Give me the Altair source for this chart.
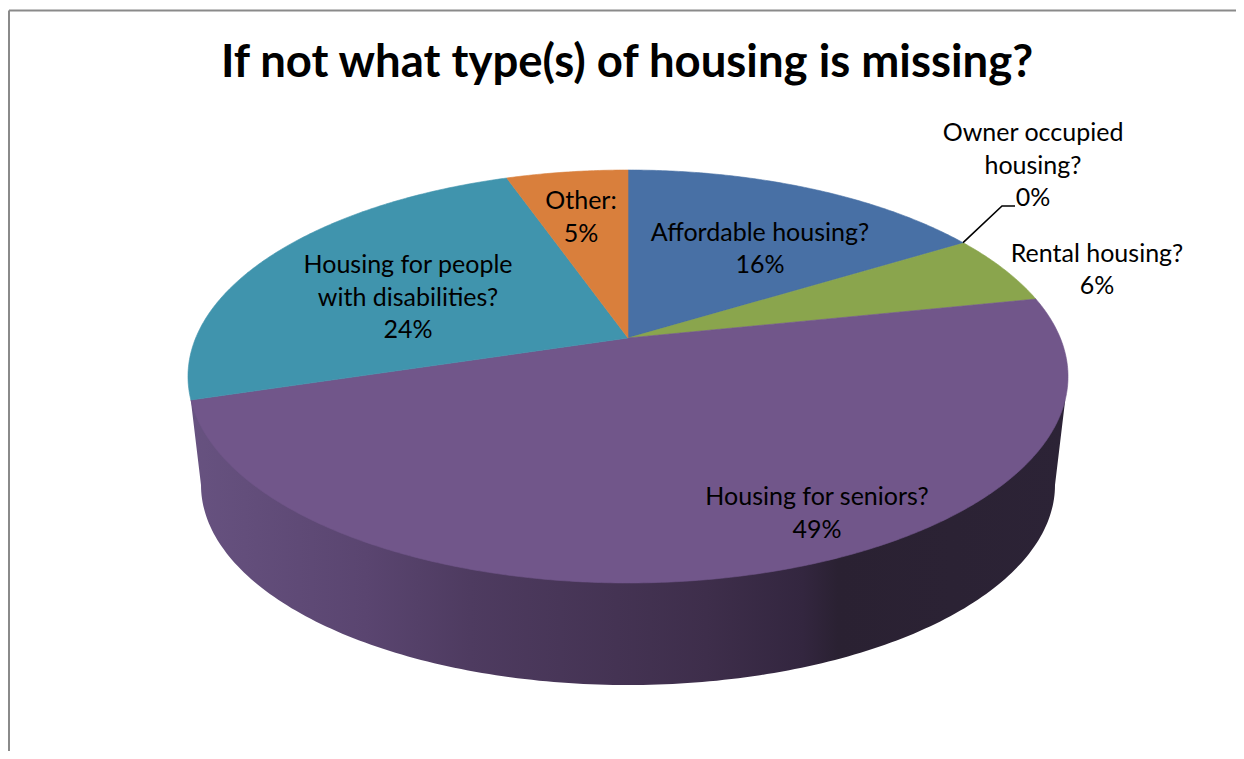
import numpy as np
import pandas as pd
import altair as alt

title_text = "If not what type(s) of housing is missing?"
categories = ["Affordable housing?", "Owner occupied housing?", "Rental housing?",
              "Housing for seniors?", "Housing for people with disabilities?", "Other:"]
shares = [16.2, 0.05, 5.5, 48.5, 24.4, 5.35]
percents = ["16%", "0%", "6%", "49%", "24%", "5%"]
wrapped = ["Affordable housing?", "Owner occupied\nhousing?", "Rental housing?",
           "Housing for seniors?", "Housing for people\nwith disabilities?", "Other:"]
colors = ["#4870a5", "#4870a5", "#8aa54d", "#71568a", "#4094ad", "#d97f3c"]
label_x = [760, 1033, 1097, 817, 408, 581]
label_y = [232.5, 133, 253.5, 497, 265, 201]

# canvas in reference pixels
X0, X1, Y0, Y1 = 8, 1236, 8, 751
xs = alt.Scale(domain=[X0, X1], nice=False, zero=False)
ys = alt.Scale(domain=[Y1, Y0], nice=False, zero=False)
X = lambda f: alt.X(f, type="quantitative", scale=xs, axis=None)
Y = lambda f: alt.Y(f, type="quantitative", scale=ys, axis=None)

# tilted disc: perspective projection of a circle
CX, CY, A, B, K = 628.0, 338.0, 432.3, 199.3, 0.1864


def rim(deg):
    t = np.radians(deg)
    u, v = np.sin(t), np.cos(t)
    w = 1 + K * v
    return CX + A * u / w, CY - B * v / w


def polygon(px, py):
    return alt.Data(values=[{"x": float(a), "y": float(b), "i": i} for i, (a, b) in enumerate(zip(px, py))])


def shape(px, py, fill, width=0.6):
    return alt.Chart(polygon(px, py)).mark_line(
        fill=fill, stroke=fill, strokeWidth=width, interpolate="linear"
    ).encode(x=X("x"), y=Y("y"), order=alt.Order("i:Q"))


layers = []

# side wall
lower_t = np.radians(np.linspace(0, 180, 181))
wall_x = 628 + 427 * np.cos(lower_t)
wall_y = 485 + 200 * np.sin(lower_t)
rx1, ry1 = rim(107.0)
rx2, ry2 = rim(253.0)
wall_px = np.concatenate([[rx1], wall_x, [rx2]])
wall_py = np.concatenate([[ry1], wall_y, [ry2]])
wall_fill = alt.Gradient(
    gradient="linear", x1=0, x2=1, y1=0, y2=0,
    stops=[
        alt.GradientStop(color="#675280", offset=0),
        alt.GradientStop(color="#5a4570", offset=0.2),
        alt.GradientStop(color="#4e3b60", offset=0.32),
        alt.GradientStop(color="#3e2e4b", offset=0.59),
        alt.GradientStop(color="#33263f", offset=0.70),
        alt.GradientStop(color="#2a2132", offset=0.74),
        alt.GradientStop(color="#2c2336", offset=1),
    ],
)
layers.append(
    alt.Chart(polygon(wall_px, wall_py)).mark_line(fill=wall_fill, strokeWidth=0, interpolate="linear")
    .encode(x=X("x"), y=Y("y"), order=alt.Order("i:Q"))
)

# top face slices
edges = np.cumsum([0] + shares) / sum(shares) * 360
for k, col in enumerate(colors):
    a0, a1 = edges[k], edges[k + 1]
    ang = np.linspace(a0, a1, max(2, int(a1 - a0) * 2 + 2))
    rx, ry = rim(ang)
    layers.append(shape(np.r_[CX, rx, CX], np.r_[CY, ry, CY], col))

# leader line for the 0% slice
lx, ly = rim(edges[1])
layers.append(
    alt.Chart(polygon([lx, 1002, 1015], [ly, 206, 206])).mark_line(color="#000000", strokeWidth=1.6)
    .encode(x=X("x"), y=Y("y"), order=alt.Order("i:Q"))
)

# data labels
label_rows = [
    {"t": f"{w}\n{p}", "x": x, "y": y}
    for w, p, x, y in zip(wrapped, percents, label_x, label_y)
]
layers.append(
    alt.Chart(alt.Data(values=label_rows)).mark_text(
        font="Lato", fontSize=25, lineBreak="\n", lineHeight=32.5,
        color="#000000", align="center", baseline="middle",
    ).encode(x=X("x"), y=Y("y"), text=alt.Text("t:N"))
)

# title
layers.append(
    alt.Chart(alt.Data(values=[{"t": title_text, "x": 627, "y": 63}])).mark_text(
        font="Lato", fontSize=45.5, fontWeight="bold", color="#000000",
        align="center", baseline="middle",
    ).encode(x=X("x"), y=Y("y"), text=alt.Text("t:N"))
)

# chart frame
layers.append(
    alt.Chart(alt.Data(values=[{"x": 9, "x2": 9, "y": 10.5, "y2": Y1}, {"x": 9, "x2": X1, "y": 10.5, "y2": 10.5}]))
    .mark_rule(color="#8a8a8a", strokeWidth=2)
    .encode(x=X("x"), y=Y("y"), x2="x2:Q", y2="y2:Q")
)

chart = alt.layer(*layers).properties(
    width=X1 - X0, height=Y1 - Y0, padding=0, autosize=alt.AutoSizeParams(type="none"),
    background="#ffffff",
).configure_view(stroke=None)

chart.save("out.html", embed_options={"renderer": "svg", "actions": False})
